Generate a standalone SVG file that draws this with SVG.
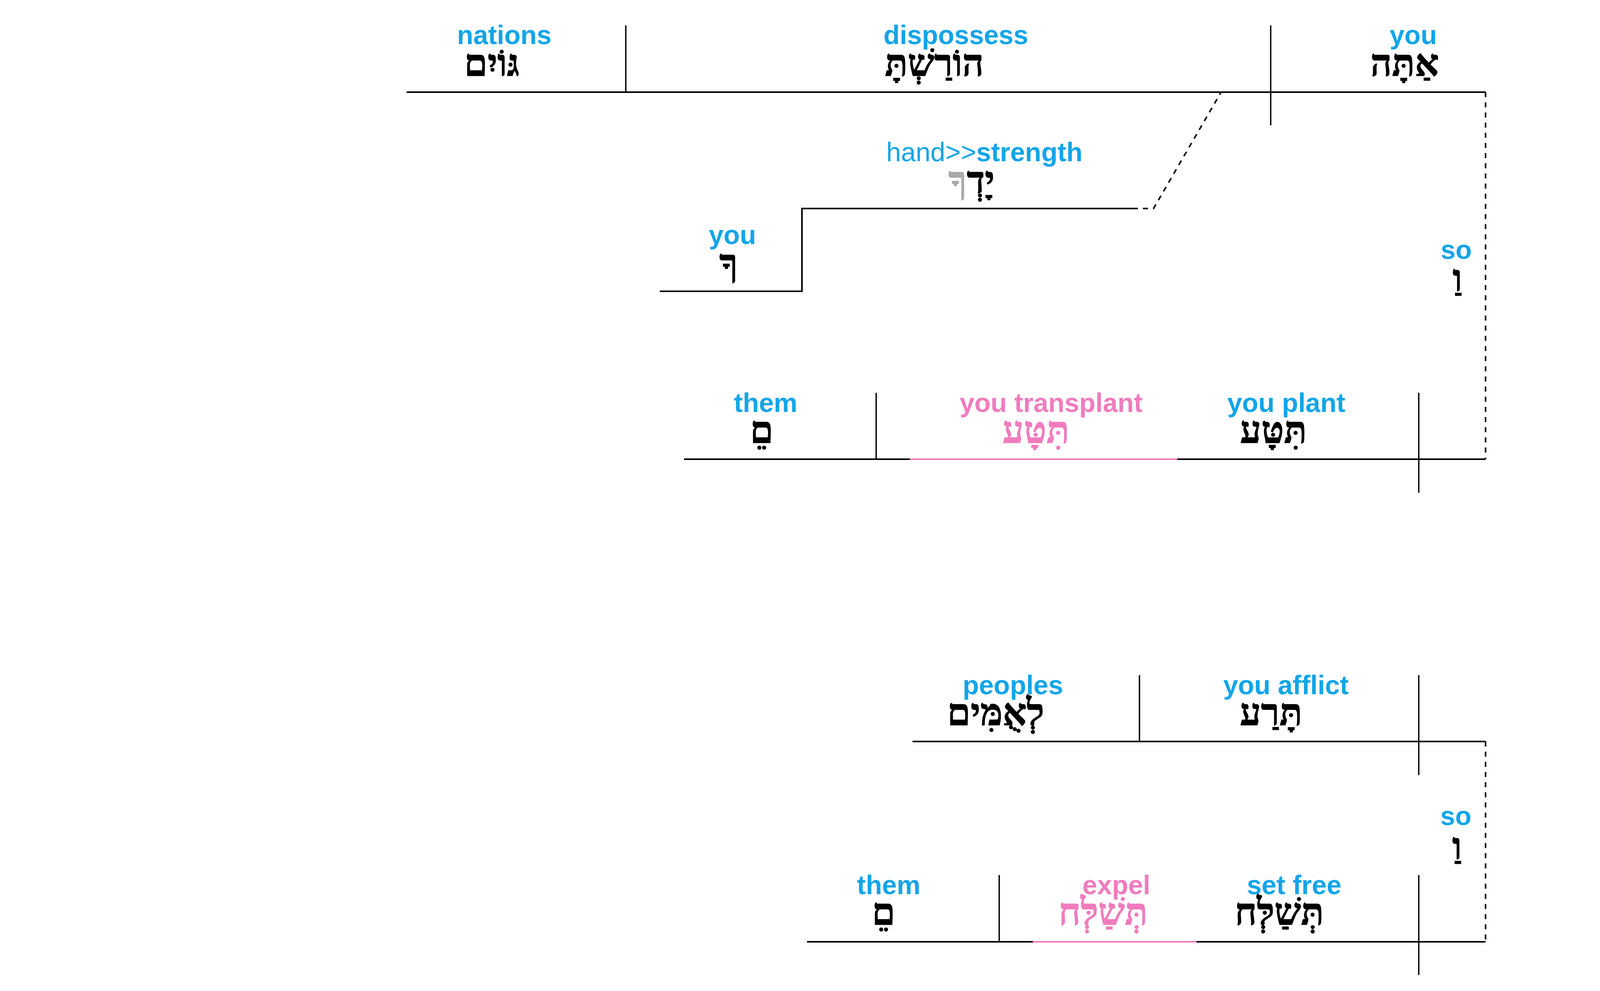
<svg xmlns="http://www.w3.org/2000/svg" width="6302" height="2538" viewBox="0 0 6302 2538">
<style>
.en{font-family:"Liberation Sans",Arial,sans-serif;font-weight:bold;font-size:68px;fill:#12a5e8;text-anchor:middle}
.rg{font-weight:normal}
.he{font-family:"Liberation Serif","DejaVu Sans",serif;font-weight:bold;font-size:96px;fill:#000;stroke:#000;stroke-width:1.5;text-anchor:middle}
.pk{fill:#f07cbd;stroke:#f07cbd}
.en.pk{stroke:none}
.gr{fill:#aaaaaa;stroke:#aaaaaa}
.ln{stroke:#000;stroke-width:4;fill:none}
.dv{stroke:#000;stroke-width:3.5;fill:none}
.pl{stroke:#f07cbd;stroke-width:4;fill:none}
.ds{stroke:#000;stroke-width:4;stroke-dasharray:13 13;fill:none}
</style>
<rect width="6302" height="2538" fill="#fff"/>
<g transform="translate(-2300,0)">
<g id="clause1">
<line class="ln" x1="3341" y1="236" x2="6103" y2="236"/>
<line class="dv" x1="3902" y1="65" x2="3902" y2="236"/>
<line class="dv" x1="5553" y1="65" x2="5553" y2="321"/>
</g>
<g id="node-nations"><text class="en" x="3591" y="113">nations</text><text class="he" x="3559" y="194">גּוֹיִם</text></g>
<g id="node-dispossess"><text class="en" x="4747" y="113">dispossess</text><text class="he" x="4692" y="194">הוֹרַשְׁתָּ</text></g>
<g id="node-you1"><text class="en" x="5918" y="113">you</text><text class="he" x="5896" y="194">אַתָּה</text></g>
<g id="node-hand"><text class="en" x="4820" y="413"><tspan class="rg">hand&gt;&gt;</tspan>strength</text><text class="he" x="4787" y="494">יָדְ<tspan class="gr">ךָ</tspan></text></g>
<g id="node-you2"><text class="en" x="4175" y="625">you</text><text class="he" x="4165" y="706">ךָ</text></g>
<g id="node-so1"><text class="en" x="6028" y="663">so</text><text class="he" x="6031" y="745">וַ</text></g>

<g id="clause2">
<line class="ln" x1="4051" y1="1176" x2="6103" y2="1176"/>
<line class="pl" x1="4629" y1="1176" x2="5314" y2="1176"/>
<line class="dv" x1="4543" y1="1006" x2="4543" y2="1176"/>
<line class="dv" x1="5932" y1="1006" x2="5932" y2="1262"/>
</g>
<g id="node-them1"><text class="en" x="4260" y="1055">them</text><text class="he" x="4250" y="1134">םֵ</text></g>
<g id="node-transplant"><text class="en pk" x="4991" y="1055">you transplant</text><text class="he pk" x="4952" y="1134">תִּטָּע</text></g>
<g id="node-plant"><text class="en" x="5593" y="1055">you plant</text><text class="he" x="5560" y="1134">תִּטָּע</text></g>

<g id="clause3">
<line class="ln" x1="4636" y1="1899" x2="6103" y2="1899"/>
<line class="dv" x1="5217" y1="1729" x2="5217" y2="1899"/>
<line class="dv" x1="5932" y1="1729" x2="5932" y2="1985"/>
</g>
<g id="node-peoples"><text class="en" x="4893" y="1778">peoples</text><text class="he" x="4849" y="1857">לְאֻמִּים</text></g>
<g id="node-afflict"><text class="en" x="5592" y="1778">you afflict</text><text class="he" x="5554" y="1857">תָּרַע</text></g>
<g id="node-so2"><text class="en" x="6027" y="2113">so</text><text class="he" x="6030" y="2200">וַ</text></g>

<g id="clause4">
<line class="ln" x1="4366" y1="2412" x2="6103" y2="2412"/>
<line class="pl" x1="4944" y1="2412" x2="5363" y2="2412"/>
<line class="dv" x1="4858" y1="2241" x2="4858" y2="2412"/>
<line class="dv" x1="5932" y1="2241" x2="5932" y2="2497"/>
</g>
<g id="node-them2"><text class="en" x="4575" y="2290">them</text><text class="he" x="4562" y="2368">םֵ</text></g>
<g id="node-expel"><text class="en pk" x="5158" y="2290">expel</text><text class="he pk" x="5124" y="2368">תְּשַׁלְּח</text></g>
<g id="node-setfree"><text class="en" x="5613" y="2290">set free</text><text class="he" x="5575" y="2368">תְּשַׁלְּח</text></g>

<g id="connectors">
<polyline class="ln" points="3989,746 4353,746 4353,534 5213,534"/>
<path class="ds" stroke-dashoffset="13" d="M5213,534 L5253,534 L5426,236"/>
<line class="ds" x1="6103" y1="236" x2="6103" y2="1176"/>
<line class="ds" x1="6103" y1="1899" x2="6103" y2="2412"/>
</g>
</g>
</svg>
